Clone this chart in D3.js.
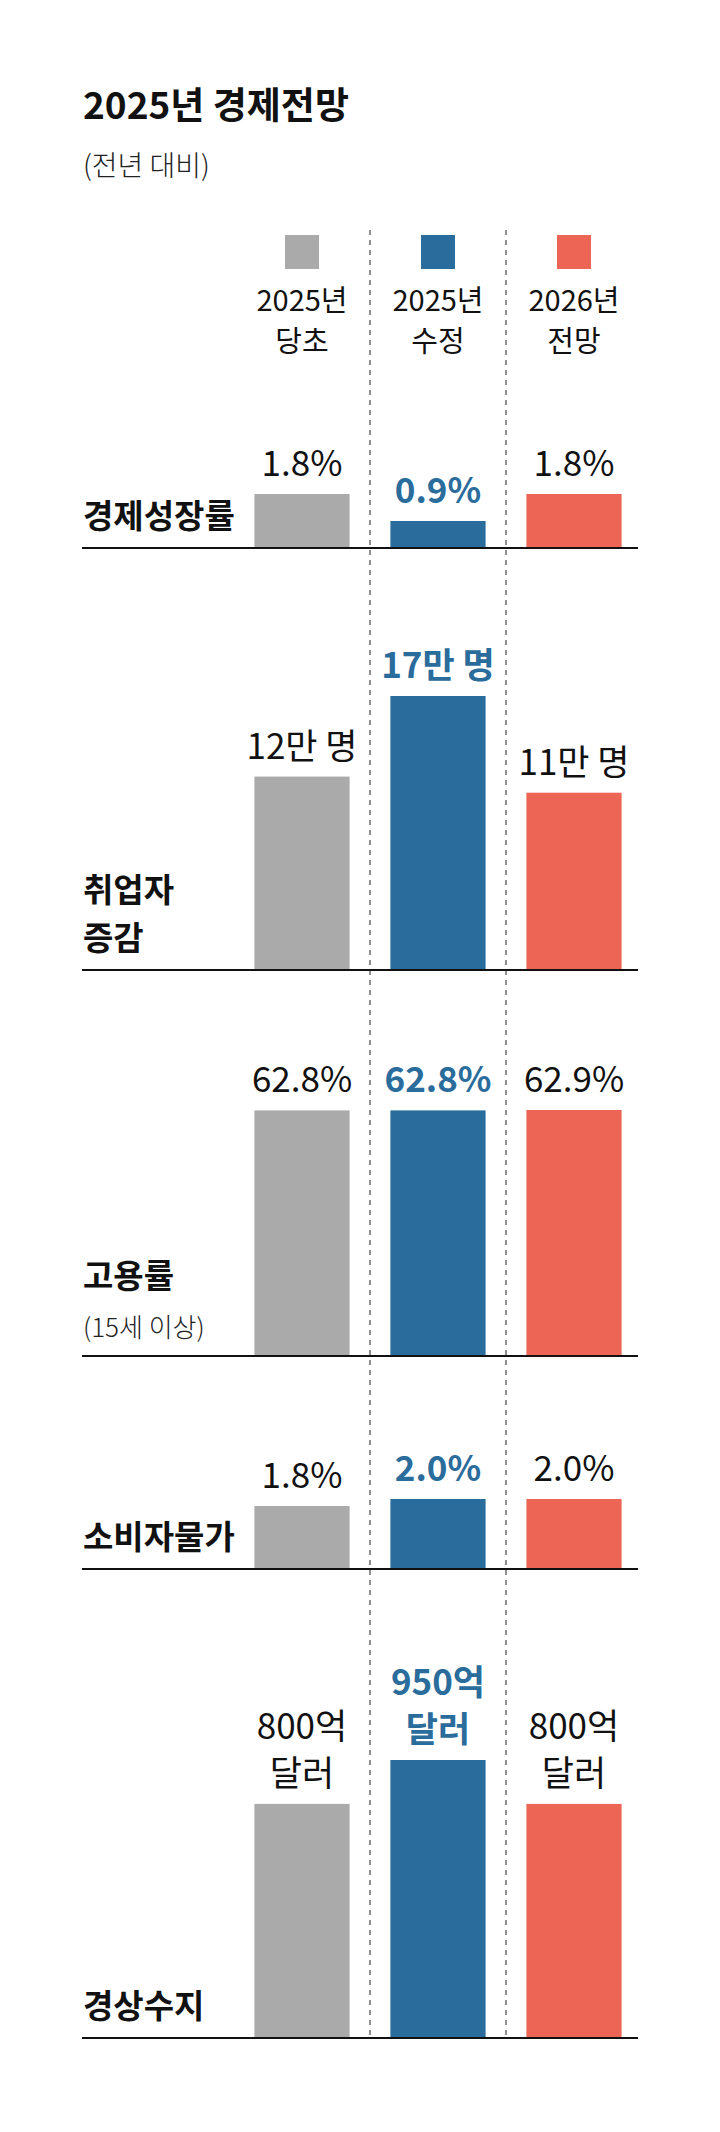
<!DOCTYPE html>
<html>
<head>
<meta charset="utf-8">
<script src="https://cdn.jsdelivr.net/npm/d3@7"></script>
<style>
  body { margin: 0; background: #fff; }
  text { font-family: "Noto Sans CJK KR", "Noto Sans", sans-serif; }
</style>
</head>
<body>
<div id="chart"></div>
<script>
// Series (legend) and their two-line labels
var series = ["2025년 당초", "2025년 수정", "2026년 전망"];
var seriesLines = [["2025년", "당초"], ["2025년", "수정"], ["2026년", "전망"]];
var colors = ["#aaaaaa", "#2a6c9b", "#ec6555"];

// Row categories
var rowNames = ["경제성장률", "취업자 증감", "고용률", "소비자물가", "경상수지"];
var rowNameLines = [["경제성장률"], ["취업자", "증감"], ["고용률"], ["소비자물가"], ["경상수지"]];
var rowNotes = ["", "", "(15세 이상)", "", ""];

// Values per row (2025 당초, 2025 수정, 2026 전망)
var growth = [1.8, 0.9, 1.8];           // %
var employment = [12, 17, 11];          // 만 명
var employmentRate = [62.8, 62.8, 62.9]; // %
var consumerPrice = [1.8, 2.0, 2.0];    // %
var currentAccount = [800, 950, 800];   // 억 달러

var width = 720;
var height = 2132;

var pct = function(d) { return [d3.format(".1f")(d) + "%"]; };
var rows = [
  { values: growth, fmt: pct },
  { values: employment, fmt: function(d) { return [d + "만 명"]; } },
  { values: employmentRate, fmt: pct },
  { values: consumerPrice, fmt: pct },
  { values: currentAccount, fmt: function(d) { return [d + "억", "달러"]; } }
];

// layout for each row: axis position and tallest bar height
var rowBase = [548, 970, 1356, 1569, 2038];
var rowMax = [54, 274, 246, 70, 278];

var svg = d3.select("#chart")
    .append("svg")
    .attr("width", width)
    .attr("height", height);

var x = d3.scaleBand()
    .domain(series)
    .range([234, 642])
    .paddingInner(0.3)
    .paddingOuter(0.15);

// Title
svg.append("text")
    .attr("x", 83).attr("y", 119)
    .attr("font-size", 37).attr("font-weight", 700)
    .attr("fill", "#111")
    .text("2025년 경제전망");

svg.append("text")
    .attr("x", 83).attr("y", 176)
    .attr("font-size", 28).attr("font-weight", 300)
    .attr("fill", "#222")
    .text("(전년 대비)");

// Dashed separators between series
var step = x.step();
svg.selectAll(".sep")
    .data(series.slice(1))
    .enter().append("line")
    .attr("class", "sep")
    .attr("x1", function(d) { return x(d) - x.paddingInner() * step / 2; })
    .attr("x2", function(d) { return x(d) - x.paddingInner() * step / 2; })
    .attr("y1", 230)
    .attr("y2", rowBase[rowBase.length - 1])
    .attr("stroke", "#555")
    .attr("stroke-width", 1.3)
    .attr("stroke-dasharray", "5,5");

// Legend
var legend = svg.selectAll(".legend")
    .data(series)
    .enter().append("g")
    .attr("class", "legend")
    .attr("transform", function(d) { return "translate(" + (x(d) + x.bandwidth() / 2) + ",0)"; });

legend.append("rect")
    .attr("x", -17).attr("y", 235)
    .attr("width", 34).attr("height", 34)
    .attr("fill", function(d, i) { return colors[i]; });

legend.each(function(d, i) {
    d3.select(this).selectAll("text")
        .data(seriesLines[i])
        .enter().append("text")
        .attr("text-anchor", "middle")
        .attr("y", function(t, j) { return 311 + j * 41; })
        .attr("font-size", 29)
        .attr("fill", "#111")
        .text(function(t) { return t; });
});

// Rows
rows.forEach(function(row, r) {
    var base = rowBase[r];
    var y = d3.scaleLinear()
        .domain([0, d3.max(row.values)])
        .range([0, rowMax[r]]);

    var g = svg.append("g").attr("class", "row");

    g.selectAll(".bar")
        .data(row.values)
        .enter().append("rect")
        .attr("class", "bar")
        .attr("x", function(d, i) { return x(series[i]); })
        .attr("y", function(d) { return base - y(d); })
        .attr("width", x.bandwidth())
        .attr("height", function(d) { return y(d); })
        .attr("fill", function(d, i) { return colors[i]; });

    // value labels
    row.values.forEach(function(v, i) {
        var lines = row.fmt(v);
        var top = base - y(v);
        g.selectAll(null)
            .data(lines)
            .enter().append("text")
            .attr("x", x(series[i]) + x.bandwidth() / 2)
            .attr("y", function(t, j) { return top - 18 - (lines.length - 1 - j) * 47; })
            .attr("text-anchor", "middle")
            .attr("font-size", 35)
            .attr("font-weight", i === 1 ? 700 : 400)
            .attr("fill", i === 1 ? colors[1] : "#111")
            .text(function(t) { return t; });
    });

    // row name
    var nameLines = rowNameLines[r];
    var lastY = rowNotes[r] ? base - 68 : base - 20;
    g.selectAll(".rowname")
        .data(nameLines)
        .enter().append("text")
        .attr("class", "rowname")
        .attr("x", 83)
        .attr("y", function(t, j) { return lastY - (nameLines.length - 1 - j) * 48; })
        .attr("font-size", 33)
        .attr("font-weight", 700)
        .attr("fill", "#111")
        .text(function(t) { return t; });

    if (rowNotes[r]) {
        g.append("text")
            .attr("x", 83)
            .attr("y", base - 19)
            .attr("font-size", 26)
            .attr("font-weight", 300)
            .attr("fill", "#222")
            .text(rowNotes[r]);
    }

    // baseline
    g.append("line")
        .attr("x1", 82).attr("x2", 638)
        .attr("y1", base).attr("y2", base)
        .attr("stroke", "#111")
        .attr("stroke-width", 2);
});
</script>
</body>
</html>
